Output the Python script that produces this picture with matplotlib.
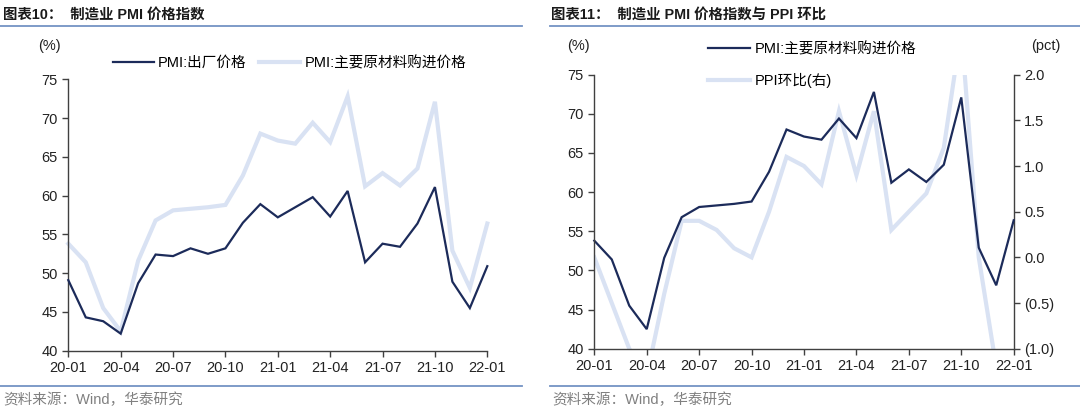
import matplotlib
matplotlib.use("Agg")
import matplotlib.pyplot as plt
from matplotlib.lines import Line2D
from matplotlib.ticker import FuncFormatter, MultipleLocator

plt.rcParams['font.family'] = ['Liberation Sans', 'Noto Sans CJK SC', 'DejaVu Sans']

# ---------------- data ----------------
months = ['20-01', '20-02', '20-03', '20-04', '20-05', '20-06', '20-07', '20-08', '20-09',
          '20-10', '20-11', '20-12', '21-01', '21-02', '21-03', '21-04', '21-05', '21-06',
          '21-07', '21-08', '21-09', '21-10', '21-11', '21-12', '22-01']
pmi_output_price = [49.1, 44.3, 43.8, 42.2, 48.7, 52.4, 52.2, 53.2, 52.5, 53.2, 56.5, 58.9,
                    57.2, 58.5, 59.8, 57.3, 60.6, 51.4, 53.8, 53.4, 56.4, 61.1, 48.9, 45.5, 50.9]
pmi_input_price = [53.8, 51.4, 45.5, 42.5, 51.6, 56.8, 58.1, 58.3, 58.5, 58.8, 62.6, 68.0,
                   67.1, 66.7, 69.4, 66.9, 72.8, 61.2, 62.9, 61.3, 63.5, 72.1, 52.9, 48.1, 56.4]
ppi_mom = [0.0, -0.5, -1.0, -1.3, -0.4, 0.4, 0.4, 0.3, 0.1, 0.0, 0.5, 1.1,
           1.0, 0.8, 1.6, 0.9, 1.6, 0.3, 0.5, 0.7, 1.2, 2.5, 0.0, -1.2]
tick_labels = ['20-01', '20-04', '20-07', '20-10', '21-01', '21-04', '21-07', '21-10', '22-01']

DARK = '#1c2b5a'
LIGHT = '#d9e2f3'
SPINE = '#404040'
RULE = '#7493c4'
FS = 10.5

W, H = 1080, 411
fig = plt.figure(figsize=(W / 100, H / 100), dpi=100)


def fx(px):
    return px / W


def fy(py):
    return 1 - py / H


x = list(range(len(months)))
tick_pos = [months.index(t) for t in tick_labels]


def style_axis(ax, right=False):
    ax.spines['top'].set_visible(False)
    ax.spines['right'].set_visible(right)
    for s in ['left', 'bottom', 'right']:
        ax.spines[s].set_color(SPINE)
        ax.spines[s].set_linewidth(1.0)
    ax.tick_params(axis='both', colors=SPINE, labelcolor='#222222', labelsize=FS,
                   length=4, width=1.0, direction='out')
    ax.set_xlim(0, len(months) - 1)
    ax.set_xticks(tick_pos)
    ax.set_xticklabels(tick_labels)
    ax.set_ylim(40, 75)
    ax.yaxis.set_major_locator(MultipleLocator(5))


# ---------------- left chart ----------------
ax1 = fig.add_axes([fx(68.3), fy(350.7), fx(487.3 - 68.3), (350.7 - 79.3) / H])
ax1.plot(x, pmi_input_price, color=LIGHT, lw=3.0, solid_joinstyle='miter', zorder=2,
         clip_on=False)
ax1.plot(x, pmi_output_price, color=DARK, lw=1.6, solid_joinstyle='miter', zorder=3,
         clip_on=False)
style_axis(ax1)
h_out = Line2D([], [], color=DARK, lw=1.6)
h_in = Line2D([], [], color=LIGHT, lw=3.0)
leg1 = ax1.legend([h_out, h_in], ['PMI:出厂价格', 'PMI:主要原材料购进价格'], ncol=2,
                  loc='center left', bbox_to_anchor=(fx(113), fy(63)),
                  bbox_transform=fig.transFigure, frameon=False, fontsize=FS,
                  handlelength=2.8, handletextpad=0.3, columnspacing=0.85,
                  borderaxespad=0, borderpad=0)
fig.text(fx(38), fy(46), '(%)', fontsize=FS, color='#222222', va='center', ha='left')

# ---------------- right chart ----------------
ax2 = fig.add_axes([fx(594.3), fy(348.7), fx(1013.7 - 594.3), (348.7 - 74.7) / H])
ax3 = ax2.twinx()
ax3.plot(x[:len(ppi_mom)], ppi_mom, color=LIGHT, lw=3.0, solid_joinstyle='miter')
ax2.plot(x, pmi_input_price, color=DARK, lw=1.6, solid_joinstyle='miter', clip_on=False)
ax2.set_zorder(ax3.get_zorder() + 1)
ax2.patch.set_visible(False)
style_axis(ax2, right=False)
ax3.set_ylim(-1.0, 2.0)
ax3.yaxis.set_major_locator(MultipleLocator(0.5))
ax3.yaxis.set_major_formatter(FuncFormatter(
    lambda v, p: f'({abs(v):.1f})' if v < -1e-9 else f'{v:.1f}'))
for s in ['top', 'left', 'bottom']:
    ax3.spines[s].set_visible(False)
ax3.spines['right'].set_color(SPINE)
ax3.spines['right'].set_linewidth(1.0)
ax3.tick_params(axis='y', colors=SPINE, labelcolor='#222222', labelsize=FS,
                length=4, width=1.0, direction='out')

h_ppi = Line2D([], [], color=LIGHT, lw=3.0)
h_in2 = Line2D([], [], color=DARK, lw=1.6)
leg2 = ax2.legend([h_in2, h_ppi], ['PMI:主要原材料购进价格', 'PPI环比(右)'], ncol=1,
                  loc='upper left', bbox_to_anchor=(fx(708), fy(42)),
                  bbox_transform=fig.transFigure, frameon=False, fontsize=FS,
                  handlelength=2.9, handletextpad=0.3, labelspacing=1.15,
                  borderaxespad=0, borderpad=0)
fig.text(fx(567), fy(46), '(%)', fontsize=FS, color='#222222', va='center', ha='left')
fig.text(fx(1031), fy(46), '(pct)', fontsize=FS, color='#222222', va='center', ha='left')

# ---------------- titles, rules, sources ----------------
fig.text(fx(3), fy(15), '图表10：  制造业 PMI 价格指数', fontsize=10.4, fontweight='bold',
         color='#1a1a1a', va='center', ha='left')
fig.text(fx(551), fy(15), '图表11：  制造业 PMI 价格指数与 PPI 环比', fontsize=10.4,
         fontweight='bold', color='#1a1a1a', va='center', ha='left')
for (x0, x1) in [(0, 522), (550, 1080)]:
    for yy in (26, 386):
        fig.add_artist(Line2D([fx(x0), fx(x1)], [fy(yy), fy(yy)], color=RULE, lw=1.3,
                              transform=fig.transFigure))
fig.text(fx(3), fy(400), '资料来源：Wind，华泰研究', fontsize=10.5, color='#808080',
         va='center', ha='left')
fig.text(fx(552), fy(400), '资料来源：Wind，华泰研究', fontsize=10.5, color='#808080',
         va='center', ha='left')

fig.savefig('out.png', dpi=100)
